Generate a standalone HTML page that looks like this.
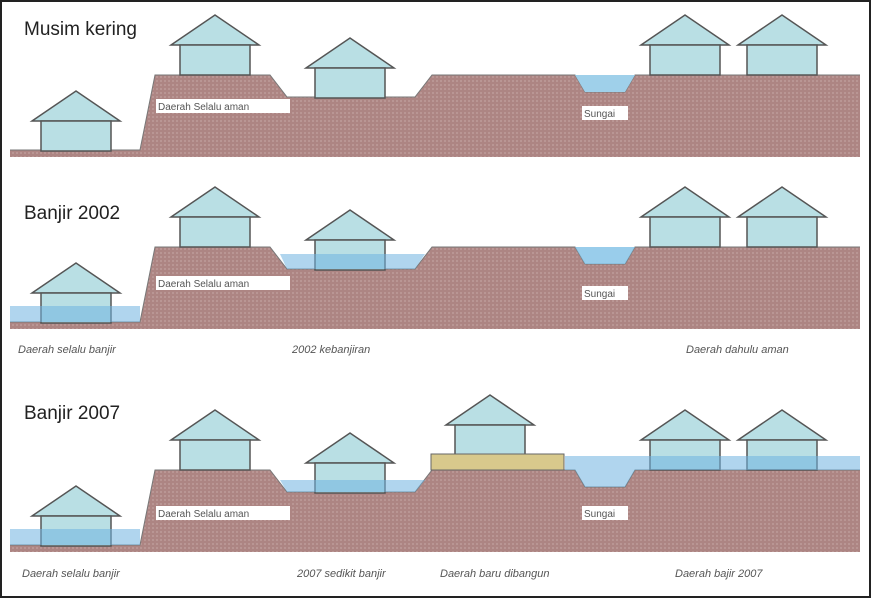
<!DOCTYPE html>
<html><head><meta charset="utf-8"><style>
html,body{margin:0;padding:0;background:#fff}
svg{display:block}
text{font-family:"Liberation Sans",sans-serif}
.cap{font-size:11px;font-style:italic;fill:#555}
.lbl{font-size:10px;fill:#555}
.ttl{font-size:19px;fill:#222}
</style></head><body>
<svg width="871" height="598" viewBox="0 0 871 598" xmlns="http://www.w3.org/2000/svg">
<defs>
<pattern id="dots" width="4" height="4" patternUnits="userSpaceOnUse">
<rect width="4" height="4" fill="#ad8583"/><rect width="2" height="2" fill="#b99694"/>
</pattern>
<g id="house">
<polygon points="-44,30 0,0 44,30" fill="#b9dfe4" stroke="#555" stroke-width="1.5"/>
<rect x="-35" y="30" width="70" height="30" fill="#b9dfe4" stroke="#555" stroke-width="1.5"/>
</g>
</defs>
<rect x="0" y="0" width="871" height="598" fill="#fff"/>
<rect x="1" y="1" width="869" height="596" fill="none" stroke="#222" stroke-width="2"/>

<!-- Panel 1 -->
<g>
<text class="ttl" x="24" y="35">Musim kering</text>
<polygon points="10,150 140,150 155,75 270,75 287,97 415,97 432,75 575,75 585,92 625,92 635,75 860,75 860,157 10,157" fill="url(#dots)"/>
<polyline points="10,150 140,150 155,75 270,75 287,97 415,97 432,75 575,75 585,92 625,92 635,75 860,75" fill="none" stroke="#777" stroke-width="1"/>
<polygon points="575,75 585,92 625,92 635,75" fill="#9fd0ea"/>
<use href="#house" x="76" y="91"/>
<use href="#house" x="215" y="15"/>
<use href="#house" x="350" y="38"/>
<use href="#house" x="685" y="15"/>
<use href="#house" x="782" y="15"/>
<rect x="156" y="99" width="134" height="14" fill="#fff"/>
<text class="lbl" x="158" y="110">Daerah Selalu aman</text>
<rect x="582" y="106" width="46" height="14" fill="#fff"/>
<text class="lbl" x="584" y="117">Sungai</text>
</g>

<!-- Panel 2 -->
<g transform="translate(0,172)">
<text class="ttl" x="24" y="47">Banjir 2002</text>
<polygon points="10,150 140,150 155,75 270,75 287,97 415,97 432,75 575,75 585,92 625,92 635,75 860,75 860,157 10,157" fill="url(#dots)"/>
<polyline points="10,150 140,150 155,75 270,75 287,97 415,97 432,75 575,75 585,92 625,92 635,75 860,75" fill="none" stroke="#777" stroke-width="1"/>
<use href="#house" x="76" y="91"/>
<use href="#house" x="215" y="15"/>
<use href="#house" x="350" y="38"/>
<use href="#house" x="685" y="15"/>
<use href="#house" x="782" y="15"/>
<rect x="10" y="134" width="130" height="16" fill="#6fb3e0" opacity="0.55"/>
<polygon points="280,82 425,82 415,97 287,97" fill="#6fb3e0" opacity="0.55"/>
<polygon points="575,75 585,92 625,92 635,75" fill="#7fc0e6" opacity="0.8"/>
<rect x="156" y="104" width="134" height="14" fill="#fff"/>
<text class="lbl" x="158" y="115">Daerah Selalu aman</text>
<rect x="582" y="114" width="46" height="14" fill="#fff"/>
<text class="lbl" x="584" y="125">Sungai</text>
<text class="cap" x="18" y="181">Daerah selalu banjir</text>
<text class="cap" x="292" y="181">2002 kebanjiran</text>
<text class="cap" x="686" y="181">Daerah dahulu aman</text>
</g>

<!-- Panel 3 -->
<g transform="translate(0,395)">
<text class="ttl" x="24" y="24">Banjir 2007</text>
<polygon points="10,150 140,150 155,75 270,75 287,97 415,97 432,75 575,75 585,92 625,92 635,75 860,75 860,157 10,157" fill="url(#dots)"/>
<polyline points="10,150 140,150 155,75 270,75 287,97 415,97 432,75 575,75 585,92 625,92 635,75 860,75" fill="none" stroke="#777" stroke-width="1"/>
<use href="#house" x="76" y="91"/>
<use href="#house" x="215" y="15"/>
<use href="#house" x="350" y="38"/>
<use href="#house" x="490" y="0"/>
<use href="#house" x="685" y="15"/>
<use href="#house" x="782" y="15"/>
<rect x="431" y="59" width="133" height="16" fill="#d8c98c" stroke="#666" stroke-width="1"/>
<rect x="10" y="134" width="130" height="16" fill="#6fb3e0" opacity="0.55"/>
<polygon points="280,85 425,85 415,97 287,97" fill="#6fb3e0" opacity="0.55"/>
<polygon points="565,61 860,61 860,75 635,75 625,92 585,92 575,75 565,75" fill="#6fb3e0" opacity="0.55"/>
<rect x="156" y="111" width="134" height="14" fill="#fff"/>
<text class="lbl" x="158" y="122">Daerah Selalu aman</text>
<rect x="582" y="111" width="46" height="14" fill="#fff"/>
<text class="lbl" x="584" y="122">Sungai</text>
<text class="cap" x="22" y="182">Daerah selalu banjir</text>
<text class="cap" x="297" y="182">2007 sedikit banjir</text>
<text class="cap" x="440" y="182">Daerah baru dibangun</text>
<text class="cap" x="675" y="182">Daerah bajir 2007</text>
</g>
</svg>
</body></html>
